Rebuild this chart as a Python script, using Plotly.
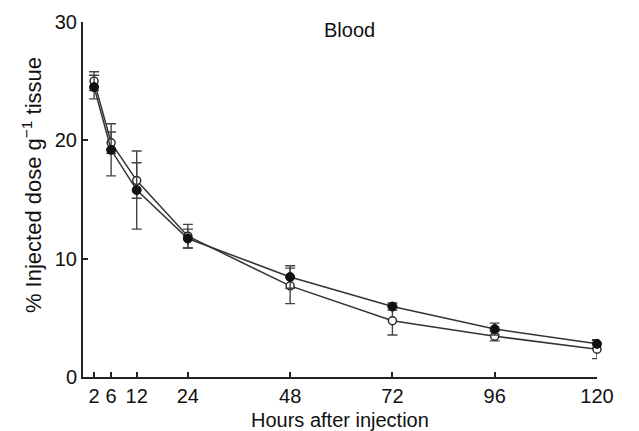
import plotly.graph_objects as go

hours = [2, 6, 12, 24, 48, 72, 96, 120]
filled_vals = [24.5, 19.2, 15.8, 11.7, 8.45, 5.95, 4.05, 2.8]
filled_err = [1.0, 2.2, 3.3, 0.8, 0.95, 0.3, 0.5, 0.3]
open_vals = [25.0, 19.8, 16.6, 11.9, 7.7, 4.75, 3.45, 2.35]
open_err = [0.8, 0.9, 1.5, 1.0, 1.5, 1.2, 0.4, 0.8]
x_ticks = [2, 6, 12, 24, 48, 72, 96, 120]
y_ticks = [0, 10, 20, 30]

line_col = "#333333"
font_fam = "Liberation Sans, Arial, sans-serif"

fig = go.Figure()
fig.add_trace(go.Scatter(
    x=hours, y=open_vals, mode="lines+markers",
    line=dict(color=line_col, width=1.5),
    marker=dict(symbol="circle", size=8, color="white", line=dict(color="#222", width=1.4)),
    error_y=dict(type="data", array=open_err, visible=True, color="#444", thickness=1.4, width=5),
    cliponaxis=False, showlegend=False,
))
fig.add_trace(go.Scatter(
    x=hours, y=filled_vals, mode="lines+markers",
    line=dict(color=line_col, width=1.5),
    marker=dict(symbol="circle", size=9, color="#111", line=dict(color="#111", width=1)),
    error_y=dict(type="data", array=filled_err, visible=True, color="#444", thickness=1.4, width=5),
    cliponaxis=False, showlegend=False,
))

fig.update_layout(
    width=631, height=423,
    margin=dict(l=75, r=42, t=14, b=54),
    paper_bgcolor="white", plot_bgcolor="white",
    font=dict(family=font_fam, size=20, color="#111"),
    xaxis=dict(
        range=[-0.6, 120], tickvals=x_ticks, ticktext=[str(v) for v in x_ticks],
        showgrid=False, zeroline=False, showline=True, linecolor="#222", linewidth=2,
        ticks="inside", ticklen=5, tickwidth=1.5, tickcolor="#222",
        tickfont=dict(size=20), automargin=False,
    ),
    yaxis=dict(
        range=[0, 30], tickvals=y_ticks,
        showgrid=False, zeroline=False, showline=True, linecolor="#222", linewidth=2,
        ticks="inside", ticklen=5, tickwidth=1.5, tickcolor="#222",
        tickfont=dict(size=20), automargin=False,
    ),
    annotations=[
        dict(text="Blood", x=62, y=29.3, xref="x", yref="y", showarrow=False,
             font=dict(size=20, family=font_fam, color="#111")),
        dict(text="Hours after injection", x=0.5, y=-0.121,
             xref="paper", yref="paper", xanchor="center", yanchor="middle",
             showarrow=False, font=dict(size=20, family=font_fam, color="#111")),
        dict(text="% Injected dose g<sup>−1</sup> tissue", x=-0.099, y=0.541,
             xref="paper", yref="paper", xanchor="center", yanchor="middle",
             textangle=-90, showarrow=False,
             font=dict(size=22, family=font_fam, color="#111")),
    ],
)

fig.write_html("out.html")
